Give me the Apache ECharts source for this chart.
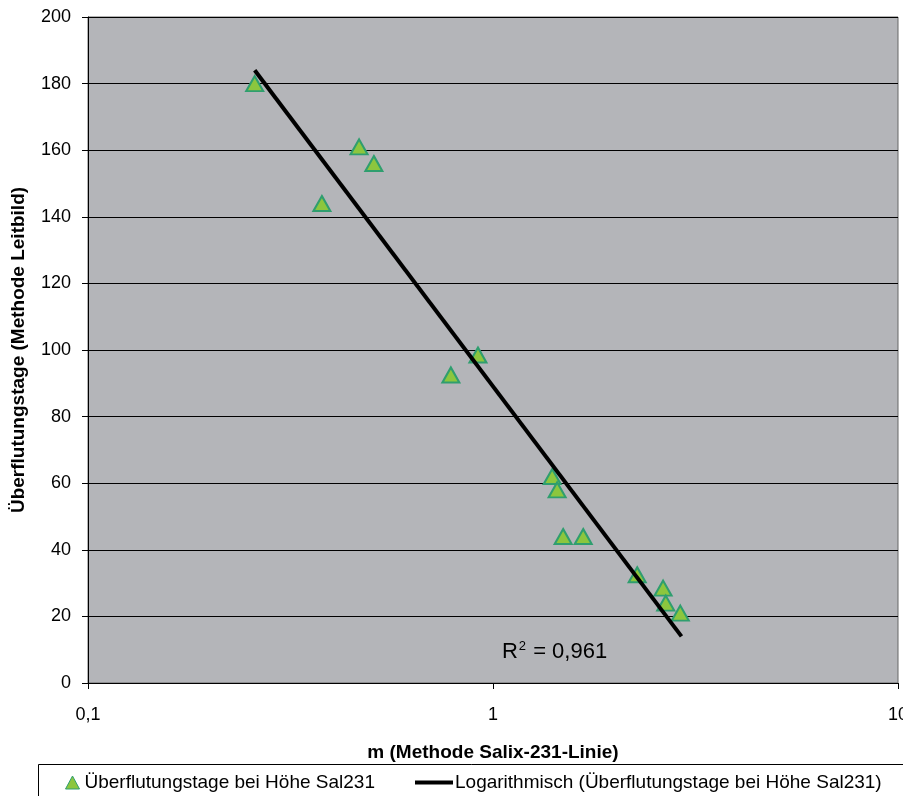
<!DOCTYPE html>
<html><head><meta charset="utf-8">
<script src="https://cdn.jsdelivr.net/npm/echarts@6/dist/echarts.min.js"></script>
<style>html,body{margin:0;padding:0;background:#fff}#c{width:903px;height:796px}</style>
</head><body><div id="c"></div>
<script>
var xValues = [0.258, 0.467, 0.508, 0.378, 0.918, 0.787, 1.40, 1.44, 1.49, 1.67, 2.27, 2.63, 2.67, 2.90];
var yValues = [180, 161, 156, 144, 98.5, 92.5, 62, 58, 44, 44, 32.5, 28.5, 24, 21];
var trendX = [0.258, 2.92];
var trendY = [184, 14];
var seriesNames = ['Überflutungstage bei Höhe Sal231', 'Logarithmisch (Überflutungstage bei Höhe Sal231)'];
var r2Label = '0,961';
var r2Anchor = [1.052, 9.3];

var chart = echarts.init(document.getElementById('c'), null, {renderer: 'canvas'});
var font = 'Liberation Sans, Arial, sans-serif';
var pts = xValues.map(function (x, i) { return [x, yValues[i]]; });
var tr = trendX.map(function (x, i) { return [x, trendY[i]]; });
chart.setOption({
  animation: false,
  backgroundColor: '#fff',
  grid: {left: 88, right: 5, top: 17, bottom: 113, containLabel: false, outerBoundsMode: 'none',
    show: true, backgroundColor: '#b4b5b9', borderColor: '#666', borderWidth: 1},
  xAxis: {
    type: 'log', logBase: 10, min: 0.1, max: 10,
    name: 'm (Methode Salix-231-Linie)', nameLocation: 'middle', nameGap: 60,
    nameTextStyle: {fontFamily: font, fontWeight: 'bold', fontSize: 19, color: '#000'},
    axisLine: {onZero: false, lineStyle: {color: '#000', width: 1}},
    axisTick: {show: true, inside: false, length: 6, lineStyle: {color: '#000'}},
    axisLabel: {fontFamily: font, fontSize: 18, color: '#000', margin: 23,
      formatter: function (v) { return String(v).replace('.', ','); }},
    splitLine: {show: false}, minorTick: {show: false}
  },
  yAxis: {
    type: 'value', min: 0, max: 200, interval: 20,
    name: 'Überflutungstage (Methode Leitbild)', nameLocation: 'middle', nameGap: 60,
    nameTextStyle: {fontFamily: font, fontWeight: 'bold', fontSize: 19, color: '#000'},
    axisLine: {show: true, lineStyle: {color: '#000', width: 1}},
    axisTick: {show: true, length: 6, lineStyle: {color: '#000'}},
    axisLabel: {fontFamily: font, fontSize: 18, color: '#000', margin: 17},
    splitLine: {show: true, lineStyle: {color: '#000', width: 1}}
  },
  legend: [
    {
      left: 65, top: 773, padding: 0, itemWidth: 14, itemHeight: 13,
      textStyle: {fontFamily: font, fontSize: 19, color: '#000'},
      data: [{name: seriesNames[0], icon: 'triangle', itemStyle: {color: '#8cc63e', borderColor: '#2f9e6f', borderWidth: 1}}]
    },
    {
      left: 415, top: 773, padding: 0, itemWidth: 38, itemHeight: 4,
      textStyle: {fontFamily: font, fontSize: 19, color: '#000', padding: [0, 0, 0, -3]},
      data: [{name: seriesNames[1], icon: 'rect', itemStyle: {color: '#000'}}]
    }
  ],
  graphic: [
    {type: 'rect', shape: {x: 38.5, y: 764.5, width: 866, height: 40}, style: {fill: 'none', stroke: '#000', lineWidth: 1}, z: 100}
  ],
  series: [
    {
      name: seriesNames[0], type: 'scatter', data: pts, symbol: 'triangle', symbolSize: [17, 15],
      itemStyle: {color: '#8cc63e', borderColor: '#2f9e6f', borderWidth: 2, opacity: 1}, z: 3
    },
    {
      name: seriesNames[1], type: 'line', data: tr, showSymbol: false, symbol: 'none',
      lineStyle: {color: '#000', width: 4}, itemStyle: {color: '#000'}, z: 4
    },
    {
      name: 'r2', type: 'scatter', data: [r2Anchor], symbolSize: 0, silent: true, z: 5,
      itemStyle: {opacity: 1},
      label: {show: true, position: 'right', distance: 0, color: '#000', opacity: 1,
        formatter: function () { return '{n|R}{s|2}{n| = ' + r2Label + '}'; },
        rich: {
          n: {fontFamily: font, fontSize: 22, color: '#000'},
          s: {fontFamily: font, fontSize: 13, color: '#000', verticalAlign: 'top', padding: [0, 1, 12, 1]}
        }}
    }
  ]
});
</script></body></html>
